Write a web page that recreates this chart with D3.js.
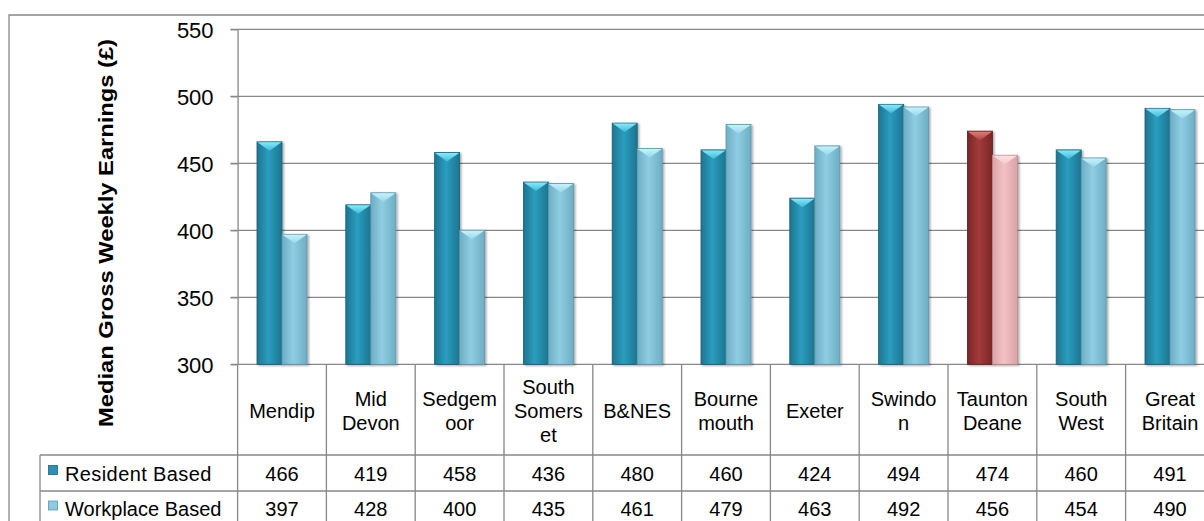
<!DOCTYPE html>
<html>
<head>
<meta charset="utf-8">
<script src="https://cdn.jsdelivr.net/npm/d3@7"></script>
<style>
  html, body { margin: 0; padding: 0; background: #fff; }
  svg { display: block; }
  text { font-family: "Liberation Sans", Arial, sans-serif; fill: #000; }
</style>
</head>
<body>
<svg id="chart" width="1204" height="521"></svg>
<script>
// Median gross weekly earnings by area
const categories = ["Mendip", "Mid Devon", "Sedgemoor", "South Somerset", "B&NES",
  "Bournemouth", "Exeter", "Swindon", "Taunton Deane", "South West", "Great Britain"];
const categoryLabelLines = [["Mendip"], ["Mid", "Devon"], ["Sedgem", "oor"], ["South", "Somers", "et"],
  ["B&NES"], ["Bourne", "mouth"], ["Exeter"], ["Swindo", "n"], ["Taunton", "Deane"],
  ["South", "West"], ["Great", "Britain"]];
const residentBased = [466, 419, 458, 436, 480, 460, 424, 494, 474, 460, 491];
const workplaceBased = [397, 428, 400, 435, 461, 479, 463, 492, 456, 454, 490];
const seriesNames = ["Resident Based", "Workplace Based"];
const yTicks = [300, 350, 400, 450, 500, 550];
const highlighted = "Taunton Deane";

const svg = d3.select("#chart");
const W = 1204, H = 521;

const plotLeft = 237.6, plotRight = 1214.4, plotTop = 29.3, plotBottom = 364.3;
const tableLeft = 40, row1 = 455, row2 = 491;
const gridColor = "#878787";

svg.append("rect").attr("width", W).attr("height", H).attr("fill", "#fff");

const x = d3.scaleBand().domain(categories).range([plotLeft, plotRight]).padding(0);
const sub = d3.scaleBand().domain(seriesNames)
  .range([0, x.bandwidth()]).paddingOuter(0.776).paddingInner(0);
const y = d3.scaleLinear().domain([300, 550]).range([plotBottom, plotTop]);

// gradients
const defs = svg.append("defs");
function hGrad(id, edge, mid) {
  const g = defs.append("linearGradient").attr("id", id).attr("x1", 0).attr("x2", 1).attr("y1", 0).attr("y2", 0);
  g.append("stop").attr("offset", "0%").attr("stop-color", edge);
  g.append("stop").attr("offset", "45%").attr("stop-color", mid);
  g.append("stop").attr("offset", "100%").attr("stop-color", edge);
}
function vGrad(id, top, bottom) {
  const g = defs.append("linearGradient").attr("id", id).attr("x1", 0).attr("x2", 0).attr("y1", 0).attr("y2", 1);
  g.append("stop").attr("offset", "0%").attr("stop-color", top);
  g.append("stop").attr("offset", "100%").attr("stop-color", bottom);
}
hGrad("resBody", "#1d7590", "#2b9dbf");
hGrad("wrkBody", "#6eaec4", "#8ecde2");
hGrad("redBody", "#7a2627", "#a23a3b");
hGrad("pinkBody", "#d9a2a6", "#f3c2c5");
vGrad("resCap", "#86e8fa", "#3fb9d8");
vGrad("wrkCap", "#c4f2fb", "#9ad8ea");
vGrad("redCap", "#e07a78", "#b24748");
vGrad("pinkCap", "#fde0e2", "#f5cacc");
const shadow = defs.append("filter").attr("id", "shadow")
  .attr("x", "-20%").attr("y", "-5%").attr("width", "160%").attr("height", "115%");
shadow.append("feDropShadow").attr("dx", 1.5).attr("dy", 1).attr("stdDeviation", 1.2)
  .attr("flood-color", "#000").attr("flood-opacity", 0.35);

// gridlines
svg.append("g").selectAll("line").data(yTicks).join("line")
  .attr("x1", plotLeft - 7).attr("x2", W)
  .attr("y1", d => y(d)).attr("y2", d => y(d))
  .attr("stroke", gridColor).attr("stroke-width", 1.3);

// y axis
const yAxis = svg.append("g").attr("transform", `translate(${plotLeft},0)`)
  .call(d3.axisLeft(y).tickValues(yTicks).tickSizeInner(7).tickSizeOuter(0).tickPadding(17));
yAxis.select(".domain").attr("stroke", gridColor).attr("stroke-width", 1.3);
yAxis.selectAll(".tick line").attr("stroke", gridColor).attr("stroke-width", 1.3);
yAxis.selectAll(".tick text")
  .style("font-family", "'Liberation Sans', Arial, sans-serif")
  .attr("font-size", 22).attr("fill", "#000").attr("dy", "0.36em");

// axis title
svg.append("text")
  .attr("transform", `translate(113,233) rotate(-90)`)
  .attr("text-anchor", "middle")
  .attr("font-size", 20.5).attr("font-weight", "bold")
  .attr("textLength", 388).attr("lengthAdjust", "spacingAndGlyphs")
  .text("Median Gross Weekly Earnings (£)");

// bars
const rows = categories.map((c, i) => ({ cat: c, vals: [residentBased[i], workplaceBased[i]] }));
const bw = sub.bandwidth();
const capH = 9;
const groups = svg.append("g").selectAll("g").data(rows).join("g")
  .attr("transform", d => `translate(${x(d.cat)},0)`);
groups.each(function (d) {
  const g = d3.select(this);
  const hi = d.cat === highlighted;
  d.vals.forEach((v, k) => {
    const x0 = sub(seriesNames[k]);
    const top = y(v);
    const body = hi ? (k === 0 ? "redBody" : "pinkBody") : (k === 0 ? "resBody" : "wrkBody");
    const cap = hi ? (k === 0 ? "redCap" : "pinkCap") : (k === 0 ? "resCap" : "wrkCap");
    const edge = hi ? (k === 0 ? "#5e1d1e" : "#b98a8d") : (k === 0 ? "#17617a" : "#5f97ab");
    g.append("rect").attr("x", x0).attr("y", top).attr("width", bw).attr("height", plotBottom - top)
      .attr("fill", `url(#${body})`).attr("stroke", edge).attr("stroke-width", 0.8)
      .attr("filter", "url(#shadow)");
    g.append("path")
      .attr("d", `M${x0 + 0.5},${top + 0.5} L${x0 + bw - 0.5},${top + 0.5} L${x0 + bw / 2},${top + capH} Z`)
      .attr("fill", `url(#${cap})`);
  });
});

// data table lines
const tableLines = svg.append("g").attr("stroke", gridColor).attr("stroke-width", 1.3);
const bounds = categories.map(c => x(c)).concat([plotRight]);
tableLines.selectAll("line.v").data(bounds).join("line").attr("class", "v")
  .attr("x1", d => d).attr("x2", d => d).attr("y1", plotBottom).attr("y2", H);
tableLines.append("line").attr("x1", tableLeft).attr("x2", tableLeft).attr("y1", row1).attr("y2", H);
tableLines.selectAll("line.h").data([row1, row2]).join("line").attr("class", "h")
  .attr("x1", tableLeft).attr("x2", W).attr("y1", d => d).attr("y2", d => d);

// category header labels
const lineGap = 24;
svg.append("g").selectAll("text").data(categories).join("text")
  .attr("text-anchor", "middle").attr("font-size", 20)
  .each(function (c, i) {
    const lines = categoryLabelLines[i];
    const first = 418 - (lines.length - 1) * lineGap / 2;
    d3.select(this).selectAll("tspan").data(lines).join("tspan")
      .attr("x", x(c) + x.bandwidth() / 2)
      .attr("y", (l, j) => first + j * lineGap)
      .text(l => l);
  });

// legend keys + values
const rowBaselines = [480.5, 516];
const keyFill = ["#2a93b4", "#8ecbe0"];
const keyEdge = ["#1b6680", "#5f97ab"];
seriesNames.forEach((name, k) => {
  const base = rowBaselines[k];
  svg.append("rect").attr("x", 48.5).attr("y", base - 15).attr("width", 9).attr("height", 9)
    .attr("fill", keyFill[k]).attr("stroke", keyEdge[k]).attr("stroke-width", 0.8);
  svg.append("text").attr("x", 65).attr("y", base).attr("font-size", 20)
    .attr("letter-spacing", k === 0 ? 0.4 : 0).text(name);
  const vals = k === 0 ? residentBased : workplaceBased;
  svg.append("g").selectAll("text").data(vals).join("text")
    .attr("x", (v, i) => x(categories[i]) + x.bandwidth() / 2)
    .attr("y", base).attr("text-anchor", "middle").attr("font-size", 20)
    .text(v => v);
});

// chart frame
svg.append("path").attr("d", `M9,${H} L9,15 L${W},15`)
  .attr("fill", "none").attr("stroke", gridColor).attr("stroke-width", 1.3);
</script>
</body>
</html>
